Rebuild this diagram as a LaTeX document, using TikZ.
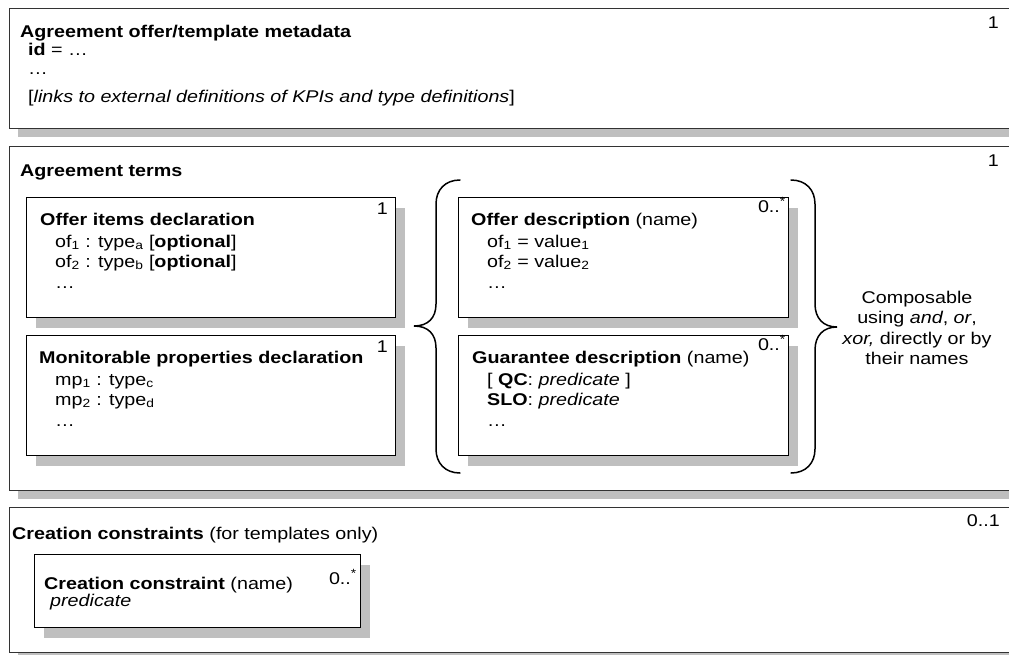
\documentclass[tikz,border=0pt]{standalone}
\usepackage{fontspec}
\setmainfont{Liberation Sans}[FakeStretch=1.16]
\usetikzlibrary{shadows}
\begin{document}
\begin{tikzpicture}[x=1pt,y=-1pt,
  font=\fontsize{17}{20}\selectfont,
  outerbox/.style={draw=black!80, line width=1.1pt, fill=white, inner sep=0pt, anchor=north west,
    drop shadow={shadow xshift=8pt, shadow yshift=-8pt, fill=black!25, opacity=1}},
  innerbox/.style={draw=black, line width=1pt, fill=white, inner sep=0pt, anchor=north west,
    drop shadow={shadow xshift=9pt, shadow yshift=-10pt, fill=black!25, opacity=1}},
  txt/.style={inner sep=0pt, anchor=base west},
  mult/.style={inner sep=0pt, anchor=base east},
  ctxt/.style={inner sep=0pt, anchor=base},
  bracepath/.style={draw=black, line width=1.5pt, line cap=round},
]
\useasboundingbox (0,0) rectangle (1009,654);
\clip (0,0) rectangle (1009,654);
\fill[white] (0,0) rectangle (1009,654);

% outer boxes
\node[outerbox, minimum width=1030pt, minimum height=120pt] (meta) at (9,8) {};
\node[outerbox, minimum width=1030pt, minimum height=344pt] (terms) at (9,146) {};
\node[outerbox, minimum width=1030pt, minimum height=145pt] (creat) at (9,507) {};

% box 1 texts
\node[txt] (metaT) at (20,37) {\textbf{Agreement offer/template metadata}};
\node[txt] (metaId) at (28,55) {\textbf{id} = …};
\node[txt] (metaDots) at (28,74) {…};
\node[txt] (metaLinks) at (28,102) {[\textit{links to external definitions of KPIs and type definitions}]};
\node[mult] (metaM) at (999,28) {1};

% box 2 texts
\node[txt] (termsT) at (20,176) {\textbf{Agreement terms}};
\node[mult] (termsM) at (999,166) {1};

% inner boxes
\node[innerbox, minimum width=369pt, minimum height=120pt] (oi) at (26,197) {};
\node[innerbox, minimum width=369pt, minimum height=120pt] (mp) at (26,335) {};
\node[innerbox, minimum width=330pt, minimum height=120pt] (od) at (458,197) {};
\node[innerbox, minimum width=330pt, minimum height=120pt] (gd) at (458,335) {};

% offer items
\node[txt] (oiT) at (40,225) {\textbf{Offer items declaration}};
\node[txt] (oiA) at (55,247) {of\textsubscript{1} : type\textsubscript{a} [\textbf{optional}]};
\node[txt] (oiB) at (55,267) {of\textsubscript{2} : type\textsubscript{b} [\textbf{optional}]};
\node[txt] (oiC) at (55,288) {…};
\node[mult] (oiM) at (388,214) {1};

% monitorable
\node[txt] (mpT) at (39,363) {\textbf{Monitorable properties declaration}};
\node[txt] (mpA) at (55,385) {mp\textsubscript{1} : type\textsubscript{c}};
\node[txt] (mpB) at (55,405) {mp\textsubscript{2} : type\textsubscript{d}};
\node[txt] (mpC) at (55,426) {…};
\node[mult] (mpM) at (388,352) {1};

% offer description
\node[txt] (odT) at (471,225) {\textbf{Offer description} (name)};
\node[txt] (odA) at (487,247) {of\textsubscript{1} = value\textsubscript{1}};
\node[txt] (odB) at (487,267) {of\textsubscript{2} = value\textsubscript{2}};
\node[txt] (odC) at (487,288) {…};
\node[mult] (odM) at (786,212) {0..\textsuperscript{*}};

% guarantee description
\node[txt] (gdT) at (472,363) {\textbf{Guarantee description} (name)};
\node[txt] (gdA) at (487,385) {[ \textbf{QC}: \textit{predicate} ]};
\node[txt] (gdB) at (487,405) {\textbf{SLO}: \textit{predicate}};
\node[txt] (gdC) at (487,426) {…};
\node[mult] (gdM) at (786,350) {0..\textsuperscript{*}};

% braces
\path[bracepath] (460,180) .. controls (445,180) and (436,190) .. (436,204) -- (436,304)
  .. controls (436,318) and (428,326) .. (414,326)
  .. controls (428,326) and (436,334) .. (436,348) -- (436,449)
  .. controls (436,463) and (445,473) .. (460,473);
\path[bracepath] (791,180) .. controls (806,180) and (815,190) .. (815,204) -- (815,304)
  .. controls (815,318) and (823,327) .. (837,327)
  .. controls (823,327) and (815,336) .. (815,350) -- (815,449)
  .. controls (815,463) and (806,473) .. (791,473);

% composable note
\node[ctxt] (c1) at (917,303) {Composable};
\node[ctxt] (c2) at (917,323) {using \textit{and}, \textit{or},};
\node[ctxt] (c3) at (917,344) {\textit{xor,} directly or by};
\node[ctxt] (c4) at (917,364) {their names};

% creation constraints
\node[txt] (creatT) at (12,539) {\textbf{Creation constraints} (for templates only)};
\node[mult] (creatM) at (1000,526) {0..1};
\node[innerbox, minimum width=326pt, minimum height=73pt] (cc) at (34,554) {};
\node[txt] (ccT) at (44,589) {\textbf{Creation constraint} (name)};
\node[txt] (ccP) at (50,606) {\textit{predicate}};
\node[mult] (ccM) at (357,584) {0..\textsuperscript{*}};
\end{tikzpicture}
\end{document}
